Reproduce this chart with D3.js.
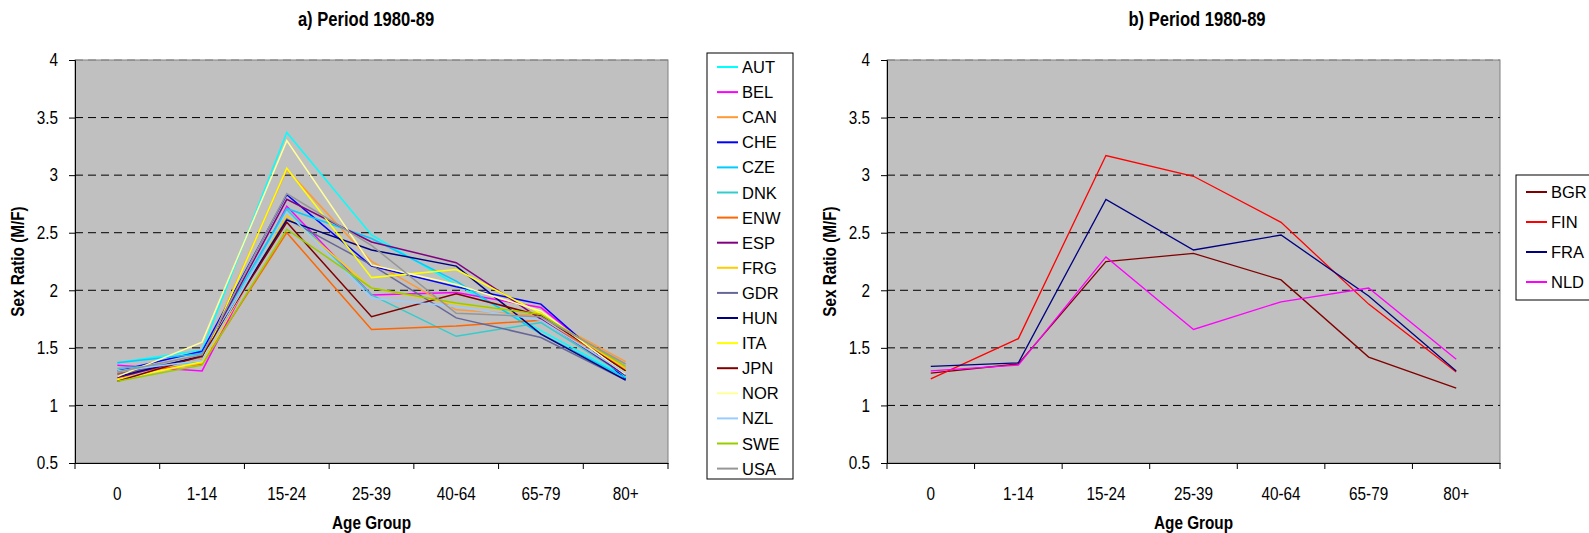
<!DOCTYPE html>
<html>
<head>
<meta charset="utf-8">
<script src="https://cdn.jsdelivr.net/npm/d3@7"></script>
<style>
  body { margin: 0; background: #fff; }
  text { font-family: "Liberation Sans", Arial, sans-serif; }
</style>
</head>
<body>
<div id="chart-area"></div>
<script>
/*
*    sex ratio by age group, 1980-89
*/
var ageGroups = ["0", "1-14", "15-24", "25-39", "40-64", "65-79", "80+"];
var yTicks = [0.5, 1, 1.5, 2, 2.5, 3, 3.5, 4];

// panel a
var countriesA = ["AUT", "BEL", "CAN", "CHE", "CZE", "DNK", "ENW", "ESP", "FRG", "GDR", "HUN", "ITA", "JPN", "NOR", "NZL", "SWE", "USA"];
var aut = [1.37, 1.48, 3.37, 2.48, 2.05, 1.65, 1.25];
var bel = [1.35, 1.30, 2.73, 1.96, 1.98, 1.85, 1.27];
var can = [1.27, 1.40, 3.05, 2.25, 1.83, 1.78, 1.38];
var che = [1.30, 1.47, 2.83, 2.21, 2.03, 1.88, 1.23];
var cze = [1.37, 1.45, 2.71, 2.45, 2.08, 1.62, 1.24];
var dnk = [1.32, 1.38, 2.70, 1.96, 1.60, 1.72, 1.26];
var enw = [1.28, 1.36, 2.50, 1.66, 1.69, 1.74, 1.32];
var esp = [1.24, 1.43, 2.79, 2.42, 2.24, 1.75, 1.26];
var frg = [1.23, 1.37, 2.65, 2.02, 1.88, 1.80, 1.32];
var gdr = [1.27, 1.42, 2.62, 2.22, 1.76, 1.59, 1.22];
var hun = [1.25, 1.43, 2.61, 2.35, 2.21, 1.62, 1.22];
var ita = [1.22, 1.38, 3.06, 2.11, 2.18, 1.80, 1.29];
var jpn = [1.21, 1.43, 2.59, 1.77, 1.97, 1.78, 1.30];
var nor = [1.25, 1.55, 3.30, 2.22, 2.05, 1.82, 1.27];
var nzl = [1.30, 1.39, 2.68, 1.93, 1.86, 1.74, 1.28];
var swe = [1.21, 1.35, 2.53, 2.02, 1.89, 1.79, 1.34];
var usa = [1.29, 1.44, 2.84, 2.39, 1.80, 1.77, 1.36];
var valuesA = [aut, bel, can, che, cze, dnk, enw, esp, frg, gdr, hun, ita, jpn, nor, nzl, swe, usa];
var colorsA = ["#00FFFF", "#FF00FF", "#FF9933", "#0000FF", "#00CCFF", "#33CCCC", "#FF6600", "#800080",
    "#FFCC00", "#666699", "#000080", "#FFFF00", "#800000", "#FFFF99", "#99CCFF", "#99CC00", "#969696"];

// panel b
var countriesB = ["BGR", "FIN", "FRA", "NLD"];
var bgr = [1.28, 1.36, 2.25, 2.32, 2.09, 1.42, 1.15];
var fin = [1.23, 1.58, 3.17, 2.99, 2.59, 1.88, 1.29];
var fra = [1.34, 1.37, 2.79, 2.35, 2.48, 1.95, 1.30];
var nld = [1.30, 1.35, 2.29, 1.66, 1.90, 2.02, 1.40];
var valuesB = [bgr, fin, fra, nld];
var colorsB = ["#800000", "#FF0000", "#000080", "#FF00FF"];

// the original text is tall and narrow
var sx = 0.85;

var svg = d3.select("#chart-area")
    .append("svg")
    .attr("width", 1589)
    .attr("height", 533);

function panel(p) {
    var g = svg.append("g");
    var x = d3.scaleBand().domain(ageGroups).range([p.left, p.right]);
    var y = d3.scaleLinear().domain([0.5, 4]).range([p.bottom, p.top]);

    g.append("rect")
        .attr("x", p.left).attr("y", p.top)
        .attr("width", p.right - p.left).attr("height", p.bottom - p.top)
        .attr("fill", "#C0C0C0")
        .attr("stroke", "#808080");

    // grid
    g.selectAll(".grid").data(yTicks.slice(1)).enter().append("line")
        .attr("x1", p.left).attr("x2", p.right)
        .attr("y1", (d) => { return y(d); })
        .attr("y2", (d) => { return y(d); })
        .attr("stroke", (d) => { return d == 4 ? "#808080" : "#000"; })
        .attr("stroke-dasharray", "8,5");

    var yAxisCall = d3.axisLeft(y).tickValues(yTicks).tickSize(6).tickFormat((d) => { return String(d); });
    var yAxis = g.append("g")
        .attr("transform", "translate(" + p.left + ",0)")
        .call(yAxisCall);
    yAxis.select(".domain").attr("stroke", "#000");
    yAxis.selectAll("text")
        .attr("x", -17 / sx)
        .attr("transform", "scale(" + sx + ",1)")
        .attr("font-size", "18px").attr("fill", "#000")
        .style("font-family", "'Liberation Sans', Arial, sans-serif");

    var xAxisCall = d3.axisBottom(x).tickSize(0).tickPadding(24);
    var xAxis = g.append("g")
        .attr("transform", "translate(0," + p.bottom + ")")
        .call(xAxisCall);
    xAxis.select(".domain").attr("stroke", "#000");
    xAxis.selectAll("text")
        .attr("transform", "scale(" + sx + ",1)")
        .attr("font-size", "18px").attr("fill", "#000")
        .style("font-family", "'Liberation Sans', Arial, sans-serif");
    var bounds = ageGroups.map((d) => { return x(d); }).concat([p.right]);
    xAxis.selectAll(".bound").data(bounds).enter().append("line")
        .attr("x1", (d) => { return d; }).attr("x2", (d) => { return d; })
        .attr("y1", 0).attr("y2", 6)
        .attr("stroke", "#000");

    var line = d3.line()
        .x((d, i) => { return x(ageGroups[i]) + x.bandwidth() / 2; })
        .y((d) => { return y(d); });

    g.selectAll(".series").data(p.values).enter().append("path")
        .attr("d", (d) => { return line(d); })
        .attr("fill", "none")
        .attr("stroke", (d, i) => { return p.colors[i]; })
        .attr("stroke-width", p.lineWidth);

    g.append("text")
        .attr("transform", "translate(" + p.titleX + ",26) scale(" + sx + ",1)")
        .attr("text-anchor", "middle")
        .attr("font-size", "19.5px").attr("font-weight", "bold")
        .text(p.title);
    g.append("text")
        .attr("transform", "translate(" + ((p.left + p.right) / 2) + ",529) scale(" + sx + ",1)")
        .attr("text-anchor", "middle")
        .attr("font-size", "18px").attr("font-weight", "bold")
        .text("Age Group");
    g.append("text")
        .attr("transform", "translate(" + (p.left - 51) + "," + ((p.top + p.bottom) / 2) + ") rotate(-90) scale(" + sx + ",1)")
        .attr("text-anchor", "middle")
        .attr("font-size", "18px").attr("font-weight", "bold")
        .text("Sex Ratio (M/F)");

    // legend
    var lg = g.append("g");
    lg.append("rect")
        .attr("x", p.legend.x).attr("y", p.legend.y)
        .attr("width", p.legend.w).attr("height", p.legend.h)
        .attr("fill", "#fff").attr("stroke", "#000");
    var items = lg.selectAll(".item").data(p.names).enter().append("g")
        .attr("transform", (d, i) => { return "translate(" + p.legend.x + "," + (p.legend.first + i * p.legend.step) + ")"; });
    items.append("line")
        .attr("x1", 10).attr("x2", 31)
        .attr("stroke", (d, i) => { return p.colors[i]; })
        .attr("stroke-width", 2);
    items.append("text")
        .attr("x", 35).attr("y", 6)
        .attr("font-size", "16.5px")
        .text((d) => { return d; });
}

panel({
    left: 75, right: 668, top: 60, bottom: 463,
    title: "a) Period 1980-89", titleX: 366,
    names: countriesA, values: valuesA, colors: colorsA, lineWidth: 1.5,
    legend: {x: 707, y: 53, w: 86, h: 426, first: 67, step: 25.1}
});

panel({
    left: 887, right: 1500, top: 60, bottom: 463,
    title: "b) Period 1980-89", titleX: 1197,
    names: countriesB, values: valuesB, colors: colorsB, lineWidth: 1.3,
    legend: {x: 1516, y: 175, w: 90, h: 125, first: 192, step: 30}
});
</script>
</body>
</html>
